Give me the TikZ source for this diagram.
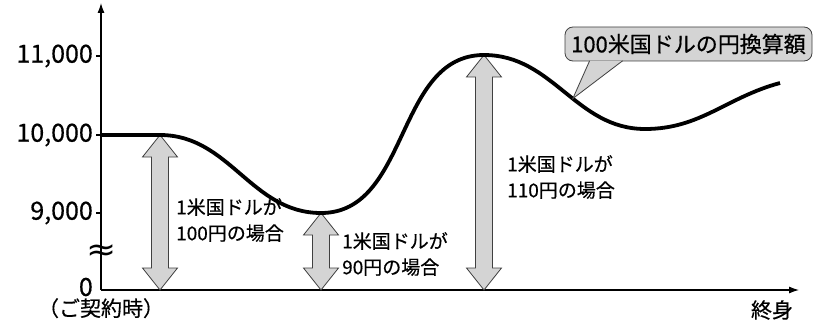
\documentclass[tikz,border=0pt]{standalone}
\usepackage{fontspec}
\setmainfont{Noto Sans CJK JP}[FakeBold=0.5]
\newfontfamily\symfont{DejaVu Sans}
\usetikzlibrary{arrows.meta, calc, positioning}

% double block arrow from a point on the curve down to the time axis
\newcommand\yenarrow[2]{%
  \draw[barrow] (#1) -- ++(-17.5,-22) -- ++(9,0) -- ($(#2)+(-8.5,22)$)
    -- ++(-9,0) -- (#2) -- ++(17.5,22) -- ++(-9,0)
    -- ($(#1)+(8.5,-22)$) -- ++(9,0) -- cycle;}

\begin{document}
\begin{tikzpicture}[
  x=1pt, y=1pt,
  every node/.style={inner sep=0pt},
  axis/.style={line width=1.1pt, -{Latex[length=10pt,width=7pt]}},
  ylab/.style={font=\fontsize{25}{25}\selectfont},
  lab/.style={font=\fontsize{19}{26}\selectfont, align=left, anchor=west},
  barrow/.style={fill=black!17, draw=black!75, line width=0.8pt},
  curve/.style={line width=3.8pt},
  callout/.style={rectangle, rounded corners=8pt, fill=black!17, draw=black!75,
    line width=0.8pt, minimum width=247pt, minimum height=34pt,
    font=\fontsize{22}{22}\selectfont}
]
\useasboundingbox (0,0) rectangle (814,-321);

% Axes
\coordinate (origin) at (101,-290);
\coordinate (ytop) at (101,-3);
\coordinate (xend) at (799,-290);
\draw[axis] (origin) -- (ytop);
\draw[axis] (origin) -- (xend);

% Ticks and values
\foreach \n/\y/\v in {a/56/{11,000}, b/135/{10,000}, c/213/{9,000}} {
  \coordinate (t\n) at (101,-\y);
  \draw[line width=1.1pt] (t\n) -- ++(-5,0);
  \node[ylab, left=8pt of t\n] (l\n) {\v};
}
\node[ylab, anchor=east] (l0) at (93,-287) {0};
\node[font=\symfont\fontsize{40}{40}\selectfont, xscale=0.9, yscale=0.8] (brk) at (102,-253) {≈};

% Curve points
\coordinate (c0) at (101,-135);
\coordinate (c1) at (160,-135);
\coordinate (lo) at (321,-213);
\coordinate (hi) at (484,-55);
\coordinate (lo2) at (645,-129);
\coordinate (cend) at (780,-83);

% Arrows
\coordinate (bot1) at (c1 |- origin);
\coordinate (bot2) at (lo |- origin);
\coordinate (bot3) at (hi |- origin);
\yenarrow{c1}{bot1}
\yenarrow{lo}{bot2}
\yenarrow{hi}{bot3}

% Curve
\draw[curve] (c0) -- (c1) to[out=0,in=180] (lo) to[out=0,in=180] (hi)
  to[out=0,in=180] coordinate[pos=0.56] (tip) (lo2) to[out=0,in=195] (cend);

% Labels
\node[lab] (txt100) at (176,-220) {1米国ドルが\\100円の場合};
\node[lab] (txt90) at (342,-254) {1米国ドルが\\90円の場合};
\node[lab] (txt110) at (507,-177) {1米国ドルが\\110円の場合};

% Callout
\node[callout] (note) at (688.5,-44) {100米国ドルの円換算額};
\coordinate (pl) at ($(note.south west)+(25,0.6)$);
\coordinate (pr) at ($(note.south west)+(58,0.6)$);
\fill[black!17] (pl) -- (tip) -- (pr) -- cycle;
\draw[draw=black!75, line width=0.8pt] (pl) -- (tip) -- (pr);

% Time labels
\node[font=\fontsize{21}{21}\selectfont, below=8pt of origin] (start) {（ご契約時）};
\node[font=\fontsize{21}{21}\selectfont] (end) at (772,-310) {終身};

\end{tikzpicture}
\end{document}
